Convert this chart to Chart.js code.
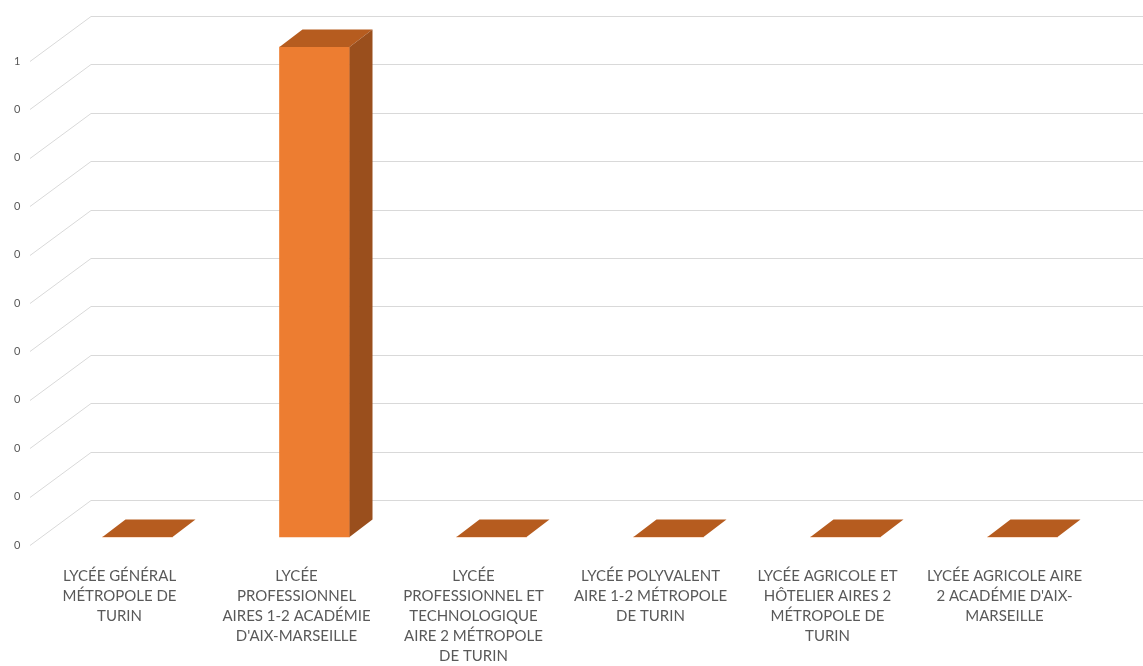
<!DOCTYPE html>
<html>
<head>
<meta charset="utf-8">
<script src="https://cdn.jsdelivr.net/npm/chart.js@4.4.0/dist/chart.umd.min.js"></script>
<style>
  body { margin: 0; background: #fff; }
</style>
</head>
<body>
<canvas id="myChart" width="1143" height="666"></canvas>
<script>
const categories = [
  ['LYCÉE GÉNÉRAL', 'MÉTROPOLE DE', 'TURIN'],
  ['LYCÉE', 'PROFESSIONNEL', 'AIRES 1-2 ACADÉMIE', "D'AIX-MARSEILLE"],
  ['LYCÉE', 'PROFESSIONNEL ET', 'TECHNOLOGIQUE', 'AIRE 2 MÉTROPOLE', 'DE TURIN'],
  ['LYCÉE POLYVALENT', 'AIRE 1-2 MÉTROPOLE', 'DE TURIN'],
  ['LYCÉE AGRICOLE ET', 'HÔTELIER AIRES 2', 'MÉTROPOLE DE', 'TURIN'],
  ['LYCÉE AGRICOLE AIRE', "2 ACADÉMIE D'AIX-", 'MARSEILLE']
];
const values = [0, 1, 0, 0, 0, 0];
const yTicks = [0, 0.1, 0.2, 0.3, 0.4, 0.5, 0.6, 0.7, 0.8, 0.9, 1];

// fake 3d depth offsets
const depth = { dx: 61, dy: -45 };
const barDepth = { dx: 23, dy: -17.5 };

const wallPlugin = {
  id: 'wall',
  beforeDatasetsDraw(chart) {
    const c = chart.ctx;
    const y = chart.scales.y;
    const left = chart.chartArea.left;
    c.save();
    c.strokeStyle = '#d9d9d9';
    c.lineWidth = 1;
    yTicks.forEach(v => {
      const py = Math.round(y.getPixelForValue(v)) + 0.5;
      c.beginPath();
      c.moveTo(left - 1, py);
      c.lineTo(left - 1 + depth.dx, py + depth.dy);
      c.lineTo(chart.width, py + depth.dy);
      c.stroke();
    });
    c.restore();
  }
};

const barPlugin = {
  id: 'bar3d',
  afterDatasetsDraw(chart) {
    const c = chart.ctx;
    const meta = chart.getDatasetMeta(0);
    c.save();
    meta.data.forEach(el => {
      const p = el.getProps(['x', 'y', 'base', 'width'], true);
      const l = p.x - p.width / 2, r = p.x + p.width / 2;
      const dx = barDepth.dx, dy = barDepth.dy;
      // top
      c.fillStyle = '#b65c1f';
      c.beginPath();
      c.moveTo(l, p.y);
      c.lineTo(r, p.y);
      c.lineTo(r + dx, p.y + dy);
      c.lineTo(l + dx, p.y + dy);
      c.closePath();
      c.fill();
      // side
      if (p.base - p.y > 0.5) {
        c.fillStyle = '#9a4f1d';
        c.beginPath();
        c.moveTo(r, p.y);
        c.lineTo(r + dx, p.y + dy);
        c.lineTo(r + dx, p.base + dy);
        c.lineTo(r, p.base);
        c.closePath();
        c.fill();
      }
    });
    c.restore();
  }
};

new Chart(document.getElementById('myChart'), {
  type: 'bar',
  data: {
    labels: categories,
    datasets: [{
      data: values.map((v, i) => ({ x: i, y: v })),
      xAxisID: 'x2',
      yAxisID: 'y2',
      backgroundColor: '#ed7d31',
      borderWidth: 0,
      barThickness: 70,
      clip: false
    }]
  },
  options: {
    responsive: false,
    animation: false,
    layout: { padding: { left: 14, right: 50, top: 61, bottom: 0 } },
    plugins: {
      legend: { display: false },
      tooltip: { enabled: false }
    },
    scales: {
      x: {
        type: 'category',
        offset: true,
        grid: { display: false, drawTicks: false },
        border: { display: false },
        ticks: {
          color: '#595959',
          padding: 21,
          maxRotation: 0,
          autoSkip: false,
          font: { family: 'Lato', size: 15, lineHeight: 20 / 15 }
        },
        afterFit(s) { s.height = 121; }
      },
      y: {
        min: 0,
        max: 1,
        afterBuildTicks(s) { s.ticks = yTicks.map(v => ({ value: v })); },
        grid: { display: false, drawTicks: false },
        border: { display: false },
        ticks: {
          color: '#595959',
          crossAlign: 'far',
          font: { family: 'Lato', size: 11 },
          callback: v => (v >= 1 ? '1' : '0')
        },
        afterFit(s) { s.width = 17; }
      },
      x2: {
        type: 'linear',
        display: false,
        offset: false,
        min: -0.6017,
        max: 5.3983
      },
      y2: {
        type: 'linear',
        display: false,
        min: -0.016327,
        max: 0.97143
      }
    }
  },
  plugins: [wallPlugin, barPlugin]
});
</script>
</body>
</html>
